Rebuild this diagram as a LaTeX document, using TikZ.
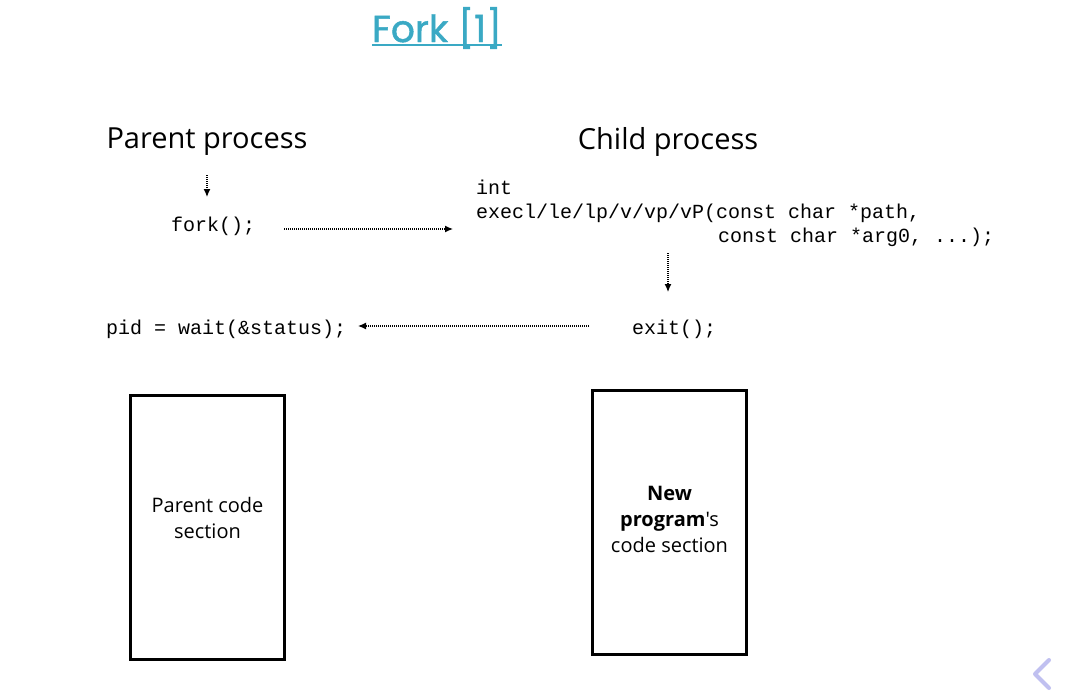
\documentclass[tikz,border=0pt]{standalone}
\usepackage{fontspec}
\setmainfont{Open Sans}[Ligatures=TeXOff]
\newfontfamily\codefont{Liberation Mono}
\newfontfamily\titlefont{Poppins}[FakeBold=1.2]
\usetikzlibrary{arrows.meta,positioning}
\usepackage{xcolor}
\definecolor{forkteal}{RGB}{58,169,196}
\definecolor{navlilac}{RGB}{192,192,240}

\begin{document}
\begin{tikzpicture}[x=1pt,y=-1pt,
	head/.style={font=\fontsize{29}{34}\selectfont},
	code/.style={font=\codefont\fontsize{20}{24}\selectfont,inner sep=0pt},
	flow/.style={dash pattern=on 1pt off 1pt,line width=1.2pt,-{Latex[length=8pt,width=7pt]}},
	sect/.style={draw,line width=3pt,minimum width=154pt,minimum height=264pt},
	secttext/.style={align=center,font=\fontsize{20}{26}\selectfont}]
					\useasboundingbox (0,0) rectangle (1075,698);
					% title
					\node[font=\titlefont\fontsize{37.5}{42}\selectfont,text=forkteal,inner sep=0pt] (title) at (437,28) {Fork [1]};
					\draw[forkteal,line width=2.5pt] ([yshift=-3pt]title.base west) -- ([yshift=-3pt]title.base east);
					% headings
					\node[head] (parent) at (207,142) {Parent process};
					\node[head] (child) at (668,142) {Child process};
					% code
					\node[code,anchor=base west] (fork) at (171,231) {fork();};
					\node[code,anchor=base west] (int) at (476,194) {int};
					\node[code,anchor=base west] (exec) at (476,218) {execl/le/lp/v/vp/vP(const char *path,};
					\node[code,anchor=base west] (args) at (718,242) {const char *arg0, ...);};
					\node[code,anchor=base west] (exit) at (632,334) {exit();};
					\node[code,anchor=base west] (wait) at (106,334) {pid = wait(\&status);};
					% arrow ends
					\coordinate (p0) at (207,175);
					\coordinate (p1) at (207,197);
					\coordinate (f0) at (284,229);
					\coordinate (f1) at (453,229);
					\coordinate (c0) at (668,253);
					\coordinate (c1) at (668,292);
					\coordinate (w0) at (589,326);
					\coordinate (w1) at (358,326);
					\draw[flow] (p0) -- (p1);
					\draw[flow] (f0) -- (f1);
					\draw[flow] (c0) -- (c1);
					\draw[flow] (w0) -- (w1);
					% code sections
					\node[sect] (parentcode) at (207.5,527) {};
					\node[sect] (childcode) at (669.5,522) {};
					\node[secttext] (parenttext) at (207.5,518) {Parent code\\section};
					\node[secttext] (childtext) at (669.5,519) {\textbf{New}\\\textbf{program}'s\\code section};
					% back chevron
					\draw[navlilac,line width=4pt,line cap=round,line join=round] (1049,660) -- (1035,674) -- (1049,688);
				\end{tikzpicture}
\end{document}
